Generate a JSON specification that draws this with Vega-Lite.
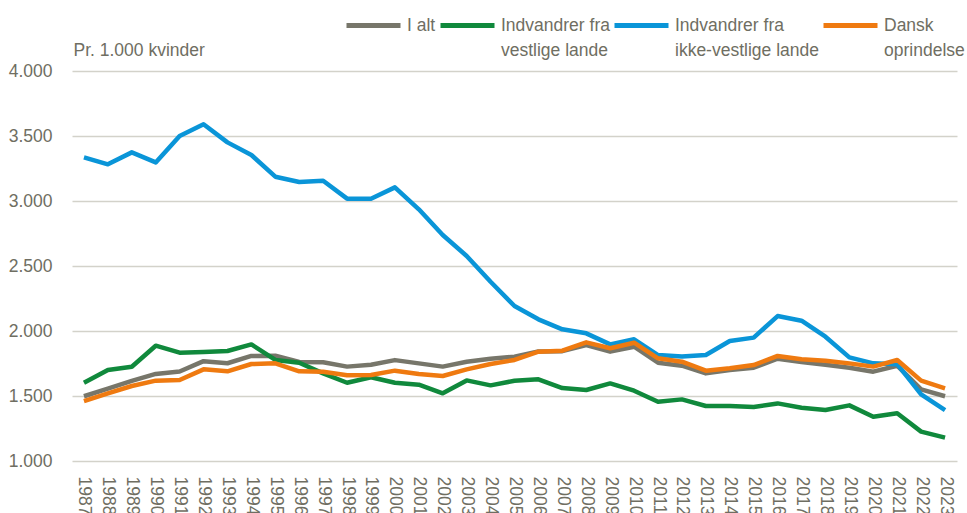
{
  "$schema": "https://vega.github.io/schema/vega-lite/v6.json",
  "width": 885,
  "height": 390,
  "autosize": {"type": "none"},
  "padding": {"left": 72, "top": 71, "right": 10, "bottom": 52},
  "background": "white",
  "config": {
    "view": {"stroke": null},
    "style": {"guide-label": {"lineHeight": 25}}
  },
  "data": {"values": [
    {"year": 1987, "series": "I alt", "value": 1498},
    {"year": 1988, "series": "I alt", "value": 1557},
    {"year": 1989, "series": "I alt", "value": 1616},
    {"year": 1990, "series": "I alt", "value": 1670},
    {"year": 1991, "series": "I alt", "value": 1688},
    {"year": 1992, "series": "I alt", "value": 1768},
    {"year": 1993, "series": "I alt", "value": 1752},
    {"year": 1994, "series": "I alt", "value": 1808},
    {"year": 1995, "series": "I alt", "value": 1810},
    {"year": 1996, "series": "I alt", "value": 1762},
    {"year": 1997, "series": "I alt", "value": 1760},
    {"year": 1998, "series": "I alt", "value": 1726},
    {"year": 1999, "series": "I alt", "value": 1741},
    {"year": 2000, "series": "I alt", "value": 1776},
    {"year": 2001, "series": "I alt", "value": 1751},
    {"year": 2002, "series": "I alt", "value": 1726},
    {"year": 2003, "series": "I alt", "value": 1764},
    {"year": 2004, "series": "I alt", "value": 1787},
    {"year": 2005, "series": "I alt", "value": 1802},
    {"year": 2006, "series": "I alt", "value": 1843},
    {"year": 2007, "series": "I alt", "value": 1845},
    {"year": 2008, "series": "I alt", "value": 1892},
    {"year": 2009, "series": "I alt", "value": 1841},
    {"year": 2010, "series": "I alt", "value": 1879},
    {"year": 2011, "series": "I alt", "value": 1756},
    {"year": 2012, "series": "I alt", "value": 1733},
    {"year": 2013, "series": "I alt", "value": 1674},
    {"year": 2014, "series": "I alt", "value": 1700},
    {"year": 2015, "series": "I alt", "value": 1718},
    {"year": 2016, "series": "I alt", "value": 1787},
    {"year": 2017, "series": "I alt", "value": 1762},
    {"year": 2018, "series": "I alt", "value": 1741},
    {"year": 2019, "series": "I alt", "value": 1718},
    {"year": 2020, "series": "I alt", "value": 1687},
    {"year": 2021, "series": "I alt", "value": 1733},
    {"year": 2022, "series": "I alt", "value": 1551},
    {"year": 2023, "series": "I alt", "value": 1498},
    {"year": 1987, "series": "Indvandrer fra vestlige lande", "value": 1602},
    {"year": 1988, "series": "Indvandrer fra vestlige lande", "value": 1700},
    {"year": 1989, "series": "Indvandrer fra vestlige lande", "value": 1725},
    {"year": 1990, "series": "Indvandrer fra vestlige lande", "value": 1887},
    {"year": 1991, "series": "Indvandrer fra vestlige lande", "value": 1833},
    {"year": 1992, "series": "Indvandrer fra vestlige lande", "value": 1838},
    {"year": 1993, "series": "Indvandrer fra vestlige lande", "value": 1846},
    {"year": 1994, "series": "Indvandrer fra vestlige lande", "value": 1897},
    {"year": 1995, "series": "Indvandrer fra vestlige lande", "value": 1777},
    {"year": 1996, "series": "Indvandrer fra vestlige lande", "value": 1756},
    {"year": 1997, "series": "Indvandrer fra vestlige lande", "value": 1674},
    {"year": 1998, "series": "Indvandrer fra vestlige lande", "value": 1602},
    {"year": 1999, "series": "Indvandrer fra vestlige lande", "value": 1644},
    {"year": 2000, "series": "Indvandrer fra vestlige lande", "value": 1602},
    {"year": 2001, "series": "Indvandrer fra vestlige lande", "value": 1587},
    {"year": 2002, "series": "Indvandrer fra vestlige lande", "value": 1521},
    {"year": 2003, "series": "Indvandrer fra vestlige lande", "value": 1620},
    {"year": 2004, "series": "Indvandrer fra vestlige lande", "value": 1582},
    {"year": 2005, "series": "Indvandrer fra vestlige lande", "value": 1617},
    {"year": 2006, "series": "Indvandrer fra vestlige lande", "value": 1628},
    {"year": 2007, "series": "Indvandrer fra vestlige lande", "value": 1561},
    {"year": 2008, "series": "Indvandrer fra vestlige lande", "value": 1546},
    {"year": 2009, "series": "Indvandrer fra vestlige lande", "value": 1597},
    {"year": 2010, "series": "Indvandrer fra vestlige lande", "value": 1541},
    {"year": 2011, "series": "Indvandrer fra vestlige lande", "value": 1456},
    {"year": 2012, "series": "Indvandrer fra vestlige lande", "value": 1474},
    {"year": 2013, "series": "Indvandrer fra vestlige lande", "value": 1423},
    {"year": 2014, "series": "Indvandrer fra vestlige lande", "value": 1423},
    {"year": 2015, "series": "Indvandrer fra vestlige lande", "value": 1415},
    {"year": 2016, "series": "Indvandrer fra vestlige lande", "value": 1443},
    {"year": 2017, "series": "Indvandrer fra vestlige lande", "value": 1410},
    {"year": 2018, "series": "Indvandrer fra vestlige lande", "value": 1392},
    {"year": 2019, "series": "Indvandrer fra vestlige lande", "value": 1428},
    {"year": 2020, "series": "Indvandrer fra vestlige lande", "value": 1341},
    {"year": 2021, "series": "Indvandrer fra vestlige lande", "value": 1367},
    {"year": 2022, "series": "Indvandrer fra vestlige lande", "value": 1226},
    {"year": 2023, "series": "Indvandrer fra vestlige lande", "value": 1180},
    {"year": 1987, "series": "Indvandrer fra ikke-vestlige lande", "value": 3336},
    {"year": 1988, "series": "Indvandrer fra ikke-vestlige lande", "value": 3282},
    {"year": 1989, "series": "Indvandrer fra ikke-vestlige lande", "value": 3374},
    {"year": 1990, "series": "Indvandrer fra ikke-vestlige lande", "value": 3297},
    {"year": 1991, "series": "Indvandrer fra ikke-vestlige lande", "value": 3500},
    {"year": 1992, "series": "Indvandrer fra ikke-vestlige lande", "value": 3590},
    {"year": 1993, "series": "Indvandrer fra ikke-vestlige lande", "value": 3451},
    {"year": 1994, "series": "Indvandrer fra ikke-vestlige lande", "value": 3354},
    {"year": 1995, "series": "Indvandrer fra ikke-vestlige lande", "value": 3187},
    {"year": 1996, "series": "Indvandrer fra ikke-vestlige lande", "value": 3146},
    {"year": 1997, "series": "Indvandrer fra ikke-vestlige lande", "value": 3156},
    {"year": 1998, "series": "Indvandrer fra ikke-vestlige lande", "value": 3018},
    {"year": 1999, "series": "Indvandrer fra ikke-vestlige lande", "value": 3018},
    {"year": 2000, "series": "Indvandrer fra ikke-vestlige lande", "value": 3105},
    {"year": 2001, "series": "Indvandrer fra ikke-vestlige lande", "value": 2936},
    {"year": 2002, "series": "Indvandrer fra ikke-vestlige lande", "value": 2738},
    {"year": 2003, "series": "Indvandrer fra ikke-vestlige lande", "value": 2577},
    {"year": 2004, "series": "Indvandrer fra ikke-vestlige lande", "value": 2379},
    {"year": 2005, "series": "Indvandrer fra ikke-vestlige lande", "value": 2192},
    {"year": 2006, "series": "Indvandrer fra ikke-vestlige lande", "value": 2090},
    {"year": 2007, "series": "Indvandrer fra ikke-vestlige lande", "value": 2013},
    {"year": 2008, "series": "Indvandrer fra ikke-vestlige lande", "value": 1982},
    {"year": 2009, "series": "Indvandrer fra ikke-vestlige lande", "value": 1897},
    {"year": 2010, "series": "Indvandrer fra ikke-vestlige lande", "value": 1936},
    {"year": 2011, "series": "Indvandrer fra ikke-vestlige lande", "value": 1815},
    {"year": 2012, "series": "Indvandrer fra ikke-vestlige lande", "value": 1803},
    {"year": 2013, "series": "Indvandrer fra ikke-vestlige lande", "value": 1815},
    {"year": 2014, "series": "Indvandrer fra ikke-vestlige lande", "value": 1923},
    {"year": 2015, "series": "Indvandrer fra ikke-vestlige lande", "value": 1949},
    {"year": 2016, "series": "Indvandrer fra ikke-vestlige lande", "value": 2115},
    {"year": 2017, "series": "Indvandrer fra ikke-vestlige lande", "value": 2079},
    {"year": 2018, "series": "Indvandrer fra ikke-vestlige lande", "value": 1956},
    {"year": 2019, "series": "Indvandrer fra ikke-vestlige lande", "value": 1797},
    {"year": 2020, "series": "Indvandrer fra ikke-vestlige lande", "value": 1751},
    {"year": 2021, "series": "Indvandrer fra ikke-vestlige lande", "value": 1745},
    {"year": 2022, "series": "Indvandrer fra ikke-vestlige lande", "value": 1513},
    {"year": 2023, "series": "Indvandrer fra ikke-vestlige lande", "value": 1392},
    {"year": 1987, "series": "Dansk oprindelse", "value": 1461},
    {"year": 1988, "series": "Dansk oprindelse", "value": 1521},
    {"year": 1989, "series": "Dansk oprindelse", "value": 1577},
    {"year": 1990, "series": "Dansk oprindelse", "value": 1618},
    {"year": 1991, "series": "Dansk oprindelse", "value": 1623},
    {"year": 1992, "series": "Dansk oprindelse", "value": 1705},
    {"year": 1993, "series": "Dansk oprindelse", "value": 1690},
    {"year": 1994, "series": "Dansk oprindelse", "value": 1746},
    {"year": 1995, "series": "Dansk oprindelse", "value": 1751},
    {"year": 1996, "series": "Dansk oprindelse", "value": 1690},
    {"year": 1997, "series": "Dansk oprindelse", "value": 1687},
    {"year": 1998, "series": "Dansk oprindelse", "value": 1659},
    {"year": 1999, "series": "Dansk oprindelse", "value": 1661},
    {"year": 2000, "series": "Dansk oprindelse", "value": 1695},
    {"year": 2001, "series": "Dansk oprindelse", "value": 1669},
    {"year": 2002, "series": "Dansk oprindelse", "value": 1654},
    {"year": 2003, "series": "Dansk oprindelse", "value": 1705},
    {"year": 2004, "series": "Dansk oprindelse", "value": 1746},
    {"year": 2005, "series": "Dansk oprindelse", "value": 1777},
    {"year": 2006, "series": "Dansk oprindelse", "value": 1841},
    {"year": 2007, "series": "Dansk oprindelse", "value": 1849},
    {"year": 2008, "series": "Dansk oprindelse", "value": 1913},
    {"year": 2009, "series": "Dansk oprindelse", "value": 1867},
    {"year": 2010, "series": "Dansk oprindelse", "value": 1910},
    {"year": 2011, "series": "Dansk oprindelse", "value": 1790},
    {"year": 2012, "series": "Dansk oprindelse", "value": 1764},
    {"year": 2013, "series": "Dansk oprindelse", "value": 1695},
    {"year": 2014, "series": "Dansk oprindelse", "value": 1713},
    {"year": 2015, "series": "Dansk oprindelse", "value": 1738},
    {"year": 2016, "series": "Dansk oprindelse", "value": 1808},
    {"year": 2017, "series": "Dansk oprindelse", "value": 1782},
    {"year": 2018, "series": "Dansk oprindelse", "value": 1772},
    {"year": 2019, "series": "Dansk oprindelse", "value": 1751},
    {"year": 2020, "series": "Dansk oprindelse", "value": 1726},
    {"year": 2021, "series": "Dansk oprindelse", "value": 1777},
    {"year": 2022, "series": "Dansk oprindelse", "value": 1618},
    {"year": 2023, "series": "Dansk oprindelse", "value": 1559}
  ]},
  "mark": {"type": "line", "strokeWidth": 4.5, "strokeJoin": "round"},
  "encoding": {
    "x": {
      "field": "year", "type": "ordinal",
      "scale": {"padding": 0.5},
      "axis": {"title": null, "labelAngle": 90, "domain": false, "ticks": false, "grid": false, "labelPadding": 15, "labelFontSize": 17.5, "labelColor": "#6f6e62", "labelFont": "Liberation Sans"}
    },
    "y": {
      "field": "value", "type": "quantitative",
      "scale": {"domain": [1000, 4000], "nice": false, "zero": false},
      "axis": {
        "title": "Pr. 1.000 kvinder", "titleAngle": 0, "titleAlign": "left", "titleBaseline": "alphabetic", "titleX": 1, "titleY": -16,
        "titleFontSize": 17.5, "titleFontWeight": "normal", "titleColor": "#6f6e62", "titleFont": "Liberation Sans",
        "values": [1000, 1500, 2000, 2500, 3000, 3500, 4000], "labelExpr": "replace(format(datum.value, ','), ',', '.')", "domain": false, "ticks": false, "labelPadding": 20, "labelFontSize": 17.5, "labelColor": "#6f6e62", "labelFont": "Liberation Sans", "gridColor": "#d3d2ca", "gridWidth": 1.5}
    },
    "color": {
      "field": "series", "type": "nominal",
      "scale": {
        "domain": ["I alt", "Indvandrer fra vestlige lande", "Indvandrer fra ikke-vestlige lande", "Dansk oprindelse"],
        "range": ["#77766a", "#10893c", "#0a95d8", "#ef7a10"]
      },
      "legend": {
        "orient": "none", "legendX": 272, "legendY": -75, "direction": "horizontal", "title": null,
        "symbolType": "stroke", "symbolSize": 2916, "symbolStrokeWidth": 5,
        "labelFontSize": 17.5, "labelColor": "#6f6e62", "labelFont": "Liberation Sans", "labelLimit": 300,
        "labelOffset": 4, "columnPadding": -6, "labelBaseline": "middle",
        "labelExpr": "datum.label == 'Indvandrer fra vestlige lande' ? ['Indvandrer fra', 'vestlige lande'] : datum.label == 'Indvandrer fra ikke-vestlige lande' ? ['Indvandrer fra', 'ikke-vestlige lande'] : datum.label == 'Dansk oprindelse' ? ['Dansk', 'oprindelse'] : ['I alt', '']"
      }
    }
  }
}
